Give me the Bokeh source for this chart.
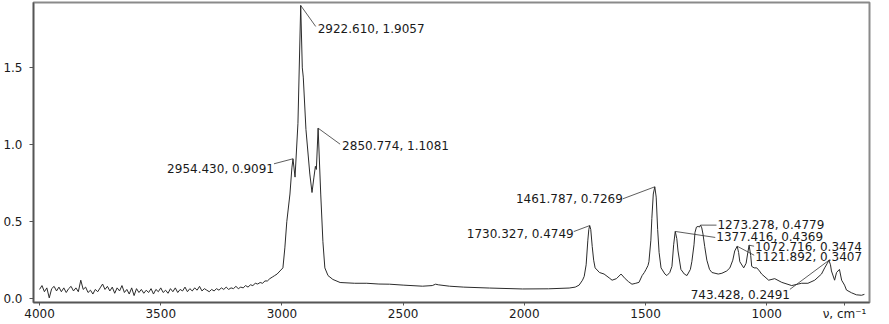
from bokeh.plotting import figure
from bokeh.models import Range1d, FixedTicker, ColumnDataSource, CustomJSTickFormatter
from bokeh.core.properties import value
from bokeh.embed import file_html
from bokeh.resources import INLINE

# ---- spectrum data (wavenumber, cm-1 ; absorbance) ----
wavenumber = [
    4000, 3990, 3980, 3970, 3960, 3950, 3940, 3930, 3920, 3910, 3900,
    3890, 3880, 3870, 3860, 3850, 3840, 3830, 3820, 3810, 3800,
    3790, 3780, 3770, 3760, 3750, 3740, 3730, 3720, 3710, 3700,
    3690, 3680, 3670, 3660, 3650, 3640, 3630, 3620, 3610, 3600,
    3590, 3580, 3570, 3560, 3550, 3540, 3530, 3520, 3510, 3500,
    3490, 3480, 3470, 3460, 3450, 3440, 3430, 3420, 3410, 3400,
    3390, 3380, 3370, 3360, 3350, 3340, 3330, 3320, 3310, 3300,
    3290, 3280, 3270, 3260, 3250, 3240, 3230, 3220, 3210, 3200,
    3190, 3180, 3170, 3160, 3150, 3140, 3130, 3120, 3110, 3100,
    3090, 3080, 3070, 3060, 3050, 3040, 3030, 3020, 3008, 2996,
    2988, 2980, 2967, 2959, 2954.43, 2946, 2934, 2922.61, 2916, 2912,
    2901, 2885, 2876, 2868, 2862, 2858, 2850.774, 2840, 2831, 2823,
    2810, 2790, 2760, 2700, 2650, 2600, 2556, 2500, 2420, 2380,
    2366, 2355, 2309, 2250, 2144, 2008, 1900, 1815, 1790, 1774,
    1760, 1753, 1745, 1738, 1734, 1730.327, 1726, 1720, 1714, 1708,
    1690, 1671, 1650, 1638, 1620, 1601, 1584, 1570, 1556, 1540,
    1527, 1514, 1505, 1498, 1490, 1486, 1478, 1474, 1468, 1461.787,
    1456, 1450, 1444, 1436, 1420, 1412, 1400, 1391, 1384, 1377.416,
    1371, 1366, 1354, 1340, 1329, 1315, 1309, 1300, 1296, 1290,
    1283, 1278, 1273.278, 1268, 1263, 1256, 1247, 1236, 1226, 1200,
    1185, 1165, 1152, 1140, 1132, 1121.892, 1116, 1111, 1095, 1085,
    1078, 1072.716, 1066, 1062, 1052, 1041, 1030, 1021, 992, 967,
    938, 897, 870, 856, 830, 802, 774, 761, 750, 743.428,
    737, 733, 720, 712, 700, 691, 679, 671, 650, 630,
    609, 597,
]
absorbance = [
    0.060, 0.085, 0.045, 0.070, 0.005, 0.065, 0.080, 0.050, 0.075, 0.045, 0.070,
    0.040, 0.065, 0.080, 0.050, 0.070, 0.045, 0.120, 0.060, 0.075, 0.040,
    0.055, 0.030, 0.060, 0.045, 0.070, 0.095, 0.060, 0.080, 0.050, 0.075,
    0.035, 0.070, 0.050, 0.085, 0.040, 0.060, 0.030, 0.070, 0.020, 0.065,
    0.040, 0.060, 0.035, 0.055, 0.040, 0.065, 0.030, 0.060, 0.045, 0.070,
    0.040, 0.055, 0.035, 0.065, 0.045, 0.070, 0.040, 0.060, 0.050, 0.075,
    0.045, 0.065, 0.050, 0.070, 0.055, 0.080, 0.050, 0.065, 0.055, 0.045,
    0.060, 0.050, 0.065, 0.055, 0.070, 0.060, 0.075, 0.060, 0.070, 0.065,
    0.080, 0.065, 0.075, 0.070, 0.085, 0.075, 0.090, 0.085, 0.100, 0.095,
    0.105, 0.100, 0.115, 0.115, 0.130, 0.140, 0.150, 0.160, 0.180, 0.200,
    0.330, 0.500, 0.680, 0.850, 0.9091, 0.790, 1.140, 1.9057, 1.500, 1.440,
    1.100, 0.810, 0.690, 0.790, 0.860, 0.840, 1.1081, 0.680, 0.370, 0.200,
    0.150, 0.125, 0.105, 0.100, 0.100, 0.095, 0.094, 0.088, 0.081, 0.085,
    0.094, 0.090, 0.081, 0.075, 0.069, 0.063, 0.064, 0.069, 0.075, 0.088,
    0.120, 0.145, 0.220, 0.380, 0.450, 0.4749, 0.450, 0.340, 0.250, 0.200,
    0.170, 0.160, 0.135, 0.120, 0.130, 0.160, 0.130, 0.110, 0.094, 0.100,
    0.106, 0.150, 0.170, 0.190, 0.215, 0.240, 0.380, 0.520, 0.680, 0.7269,
    0.660, 0.450, 0.300, 0.200, 0.160, 0.150, 0.170, 0.210, 0.350, 0.4369,
    0.390, 0.310, 0.190, 0.160, 0.150, 0.190, 0.240, 0.350, 0.430, 0.465,
    0.470, 0.465, 0.4779, 0.460, 0.420, 0.340, 0.250, 0.190, 0.170, 0.160,
    0.165, 0.180, 0.200, 0.250, 0.310, 0.3407, 0.300, 0.240, 0.200, 0.230,
    0.300, 0.3474, 0.280, 0.210, 0.200, 0.200, 0.180, 0.160, 0.120, 0.130,
    0.106, 0.085, 0.095, 0.100, 0.100, 0.120, 0.160, 0.200, 0.230, 0.2491,
    0.220, 0.180, 0.120, 0.170, 0.190, 0.120, 0.088, 0.056, 0.038, 0.025,
    0.022, 0.028,
]

# ---- annotated peaks ----
peak_wn = [2922.610, 2954.430, 2850.774, 1730.327, 1461.787,
           1273.278, 1377.416, 1072.716, 1121.892, 743.428]
peak_abs = [1.9057, 0.9091, 1.1081, 0.4749, 0.7269,
            0.4779, 0.4369, 0.3474, 0.3407, 0.2491]
peak_labels = [f"{w:.3f}, {a:.4f}" for w, a in zip(peak_wn, peak_abs)]
# leader-line end offsets and text offsets (screen px), text alignment
line_dx = [15, -19, 22, -16, -32, 16, 40, 5, 17, -39]
line_dy = [21, 5, 16, 6, 12, 0, 6, 1, 9, 29]
text_dx = [17, -19, 24, -16, -32, 17, 41, 6, 18, -39]
text_dy = [24, 10, 18, 8, 12, 0, 6, 2, 11, 35]
text_al = ["left", "right", "left", "right", "right",
           "left", "left", "left", "left", "right"]

x_ticks = [4000, 3500, 3000, 2500, 2000, 1500, 1000, 679]
x_tick_labels = {679: "ν, cm⁻¹"}
y_ticks = [0.0, 0.5, 1.0, 1.5]

X0, X1 = 4025, 576
Y0, Y1 = -0.025, 1.925
FW, FH = 836, 300
xs = (X0 - X1) / FW
ys = (Y1 - Y0) / FH

FONT = "DejaVu Sans"
INK = "#1a1a1a"

p = figure(frame_width=FW, frame_height=FH,
           x_range=Range1d(X0, X1), y_range=Range1d(Y0, Y1),
           output_backend="svg", toolbar_location=None,
           min_border_left=30, min_border_top=2, min_border_bottom=0,
           min_border_right=8, background_fill_color="white")
p.grid.visible = False
p.outline_line_color = "#8a8a8a"
p.outline_line_width = 2

for ax in (p.xaxis[0], p.yaxis[0]):
    ax.axis_line_color = "#555555"
    ax.axis_line_width = 1.5
    ax.major_tick_line_color = "#555555"
    ax.major_tick_in = 0
    ax.minor_tick_line_color = None
    ax.major_label_text_font = FONT
    ax.major_label_text_font_size = "12px"
    ax.major_label_text_color = INK
p.xaxis[0].ticker = FixedTicker(ticks=x_ticks)
p.xaxis[0].major_label_overrides = x_tick_labels
p.xaxis[0].major_tick_out = 3
p.xaxis[0].major_label_standoff = 1
p.yaxis[0].ticker = FixedTicker(ticks=y_ticks)
p.yaxis[0].major_tick_out = 4
p.yaxis[0].major_label_standoff = 7
p.yaxis[0].formatter = CustomJSTickFormatter(code="return tick.toFixed(1);")

p.line(wavenumber, absorbance, line_color="#2b2b2b", line_width=1)

# leader lines
x_end = [w - dx * xs for w, dx in zip(peak_wn, line_dx)]
y_end = [a - dy * ys for a, dy in zip(peak_abs, line_dy)]
p.segment(x0=peak_wn, y0=peak_abs, x1=x_end, y1=y_end,
          line_color="#333333", line_width=0.8)

src = ColumnDataSource(dict(x=peak_wn, y=peak_abs, t=peak_labels,
                            dx=text_dx, dy=text_dy, al=text_al))
p.text(x="x", y="y", text="t", x_offset="dx", y_offset="dy",
       text_align="al", text_baseline="middle", source=src,
       text_font=value(FONT), text_font_size="12px", text_color=INK)

open("out.html", "w").write(file_html(p, INLINE))
